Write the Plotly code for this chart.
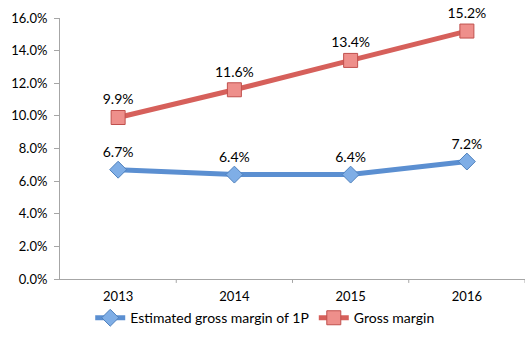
import plotly.graph_objects as go

years = ["2013", "2014", "2015", "2016"]
est_1p = [6.7, 6.4, 6.4, 7.2]
gross = [9.9, 11.6, 13.4, 15.2]
y_ticks = [0, 2, 4, 6, 8, 10, 12, 14, 16]
y_tick_labels = [f"{v:.1f}%" for v in y_ticks]

font = "Lato, 'Liberation Sans', sans-serif"

fig = go.Figure()
fig.add_trace(go.Scatter(
    x=years, y=est_1p, name="Estimated gross margin of 1P",
    mode="lines+markers+text",
    line=dict(color="#5B8FD1", width=5),
    marker=dict(symbol="diamond", size=13, color="#7FAEE6", line=dict(color="#4F81BD", width=1)),
    text=[f"{v:.1f}%" for v in est_1p], textposition="top center",
    textfont=dict(size=14, color="#000000", family=font),
    cliponaxis=False,
))
fig.add_trace(go.Scatter(
    x=years, y=gross, name="Gross margin",
    mode="lines+markers+text",
    line=dict(color="#D6605B", width=5),
    marker=dict(symbol="square", size=14, color="#EE8F8B", line=dict(color="#C0504D", width=1)),
    text=[f"{v:.1f}%" for v in gross], textposition="top center",
    textfont=dict(size=14, color="#000000", family=font),
    cliponaxis=False,
))

fig.update_layout(
    width=528, height=337,
    margin=dict(l=60, r=3, t=18, b=53),
    paper_bgcolor="white", plot_bgcolor="white",
    font=dict(family=font, size=13, color="#000000"),
    showlegend=True,
    legend=dict(orientation="h", x=0.065, xanchor="left", y=-0.15, yanchor="middle",
                font=dict(size=14), itemwidth=30, traceorder="normal",
                bgcolor="rgba(0,0,0,0)"),
    xaxis=dict(type="category", range=[-0.5, 3.5], showline=True, linecolor="#A6A6A6",
               linewidth=1, ticks="", showgrid=False, tickfont=dict(size=13),
               ticklabelstandoff=5),
    yaxis=dict(range=[0, 16], tickvals=y_ticks, ticktext=y_tick_labels,
               showline=True, linecolor="#A6A6A6", linewidth=1, ticks="outside",
               ticklen=5, tickcolor="#A6A6A6", showgrid=False, zeroline=False,
               tickfont=dict(size=13), ticklabelstandoff=4),
)
# category boundary tick marks on the x axis
for i in range(4):
    fig.add_shape(type="line", xref="x", yref="paper", x0=i + 0.5, x1=i + 0.5,
                  y0=0, y1=-0.015, line=dict(color="#A6A6A6", width=1))

fig.write_html("out.html")
